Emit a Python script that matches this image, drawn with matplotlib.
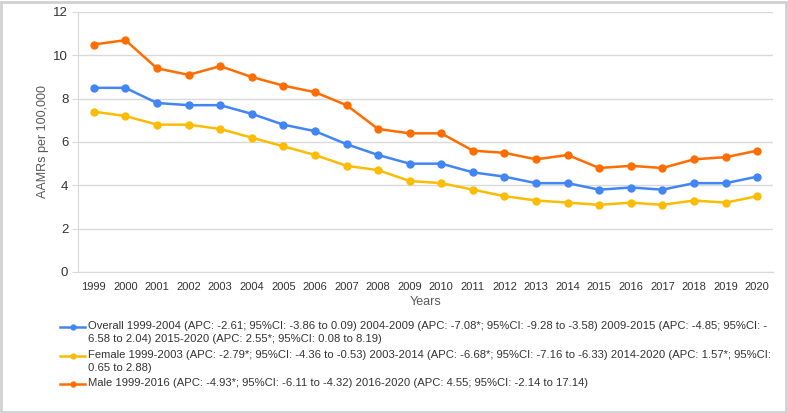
import matplotlib.pyplot as plt
from matplotlib.lines import Line2D
from matplotlib.patches import Rectangle

plt.rcParams['font.family'] = ['Liberation Sans', 'DejaVu Sans']

years = list(range(1999, 2021))
overall = [8.5, 8.5, 7.8, 7.7, 7.7, 7.3, 6.8, 6.5, 5.9, 5.4, 5.0, 5.0, 4.6, 4.4, 4.1, 4.1, 3.8, 3.9, 3.8, 4.1, 4.1, 4.4]
female = [7.4, 7.2, 6.8, 6.8, 6.6, 6.2, 5.8, 5.4, 4.9, 4.7, 4.2, 4.1, 3.8, 3.5, 3.3, 3.2, 3.1, 3.2, 3.1, 3.3, 3.2, 3.5]
male = [10.5, 10.7, 9.4, 9.1, 9.5, 9.0, 8.6, 8.3, 7.7, 6.6, 6.4, 6.4, 5.6, 5.5, 5.2, 5.4, 4.8, 4.9, 4.8, 5.2, 5.3, 5.6]

labels = [
    "Overall 1999-2004 (APC: -2.61; 95%CI: -3.86 to 0.09) 2004-2009 (APC: -7.08*; 95%CI: -9.28 to -3.58) 2009-2015 (APC: -4.85; 95%CI: -\n"
    "6.58 to 2.04) 2015-2020 (APC: 2.55*; 95%CI: 0.08 to 8.19)",
    "Female 1999-2003 (APC: -2.79*; 95%CI: -4.36 to -0.53) 2003-2014 (APC: -6.68*; 95%CI: -7.16 to -6.33) 2014-2020 (APC: 1.57*; 95%CI:\n"
    "0.65 to 2.88)",
    "Male 1999-2016 (APC: -4.93*; 95%CI: -6.11 to -4.32) 2016-2020 (APC: 4.55; 95%CI: -2.14 to 17.14)",
]
colors = ['#4285F4', '#FBBC04', '#FF6D01']

W, H = 788, 413
fig = plt.figure(figsize=(W / 100, H / 100), dpi=100)
ax = fig.add_axes([78 / W, 1 - 272 / H, (773 - 78) / W, (272 - 12) / H])

x = range(len(years))
for vals, c in zip([overall, female, male], colors):
    ax.plot(x, vals, color=c, lw=1.8, marker='o', ms=5, zorder=3)

ax.set_xlim(-0.5, len(years) - 0.5)
ax.set_ylim(0, 12)
ax.set_yticks(range(0, 13, 2))
ax.set_xticks(list(x))
ax.set_xticklabels([str(y) for y in years])
ax.grid(axis='y', color='#d9d9d9', lw=1)
ax.set_axisbelow(True)
for s in ['top', 'right']:
    ax.spines[s].set_visible(False)
ax.spines['left'].set_color('#d9d9d9')
ax.spines['bottom'].set_color('#d9d9d9')
ax.tick_params(axis='y', length=4, color='#d9d9d9', labelsize=9.5, labelcolor='#333333', pad=3)
ax.tick_params(axis='x', length=0, labelsize=8, labelcolor='#333333', pad=7)
ax.set_ylabel('AAMRs per 100,000', fontsize=9, color='#595959', labelpad=3)
ax.set_xlabel('Years', fontsize=9, color='#595959', labelpad=3)

# legend drawn by hand so the handle sits on the first line of wrapped text
rows_y = [327, 356, 384]
for lab, c, yy in zip(labels, colors, rows_y):
    fy = 1 - yy / H
    fig.add_artist(Line2D([60 / W, 85 / W], [fy, fy], color=c, lw=1.8))
    fig.add_artist(Line2D([72.5 / W], [fy], color=c, marker='o', ms=3.5))
    fig.text(88 / W, 1 - (yy - 6) / H, lab, fontsize=8.1, color='#333333',
             va='top', ha='left', linespacing=1.4)

fig.add_artist(Rectangle((1 / W, 1 / H), (W - 3) / W, (H - 3) / H, transform=fig.transFigure,
                         fill=False, edgecolor='#d0d0d0', lw=2))

fig.savefig('out.png', dpi=100)
